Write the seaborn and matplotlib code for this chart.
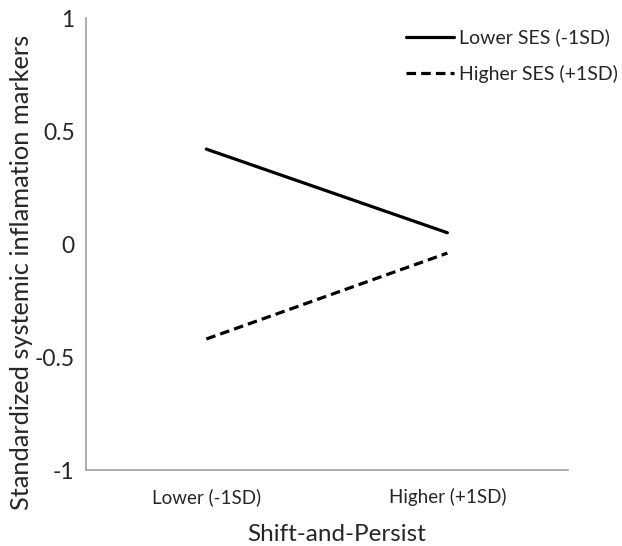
import matplotlib
matplotlib.use("Agg")
import matplotlib.pyplot as plt
import seaborn as sns
import pandas as pd

categories = ["Lower (-1SD)", "Higher (+1SD)"]
lower_ses = [0.42, 0.05]
higher_ses = [-0.42, -0.04]
series_names = ["Lower SES (-1SD)", "Higher SES (+1SD)"]

rows = []
for name, vals in zip(series_names, [lower_ses, higher_ses]):
    for i, v in enumerate(vals):
        rows.append({"x": i + 0.5, "value": v, "series": name})
df = pd.DataFrame(rows)

sns.set_style("white")
plt.rcParams["font.family"] = ["Lato", "DejaVu Sans"]

fig = plt.figure(figsize=(6.22, 5.46), dpi=100)
ax = fig.add_axes([0.138, 0.139, 0.775, 0.828])

sns.lineplot(data=df, x="x", y="value", style="series", style_order=series_names,
             dashes={series_names[0]: "", series_names[1]: (3, 1.6)},
             color="black", linewidth=2.3, ax=ax)

ax.set_xlim(0, 2)
ax.set_ylim(-1, 1)
ax.set_yticks([-1, -0.5, 0, 0.5, 1])
ax.set_yticklabels(["-1", "-0.5", "0", "0.5", "1"])
ax.set_xticks([0.5, 1.5])
ax.set_xticklabels(categories)
ax.set_xticks([0, 1, 2], minor=True)
ax.tick_params(axis="x", which="major", length=0, pad=13, labelsize=13.5)
ax.tick_params(axis="x", which="minor", length=6, color="#A0A0A0", width=1.2, direction="out")
ax.tick_params(axis="y", length=5, color="#A0A0A0", width=1.2, direction="out", labelsize=16.5, pad=3)

for s in ["top", "right"]:
    ax.spines[s].set_visible(False)
for s in ["left", "bottom"]:
    ax.spines[s].set_color("#A0A0A0")
    ax.spines[s].set_linewidth(1.2)

ax.set_xlabel("Shift-and-Persist", fontsize=17.5)
ax.set_ylabel("Standardized systemic inflamation markers", fontsize=18.3)
ax.xaxis.set_label_coords(0.52, -0.12)
ax.yaxis.set_label_coords(-0.11, 0.438)

leg = ax.legend(loc="upper right", bbox_to_anchor=(1.14, 1.015), frameon=False,
                fontsize=14, handlelength=2.5, handletextpad=0.25, labelspacing=0.95)
leg.set_title(None)

fig.savefig("out.png", dpi=100)
